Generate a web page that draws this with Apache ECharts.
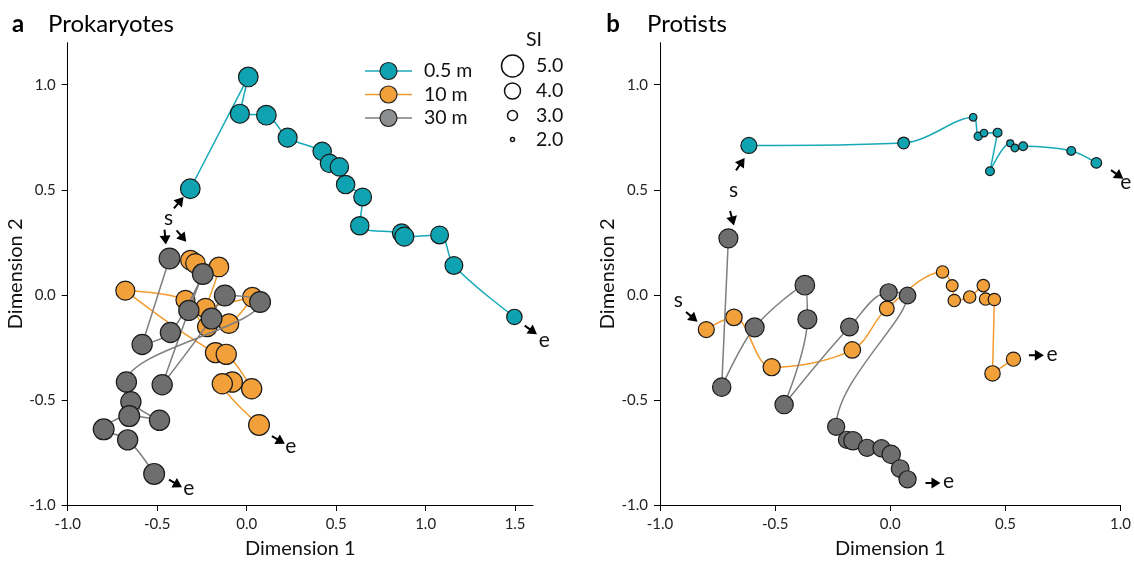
<!DOCTYPE html>
<html><head><meta charset="utf-8">
<script src="https://cdn.jsdelivr.net/npm/echarts@6/dist/echarts.min.js"></script>
<style>html,body{margin:0;padding:0;background:#fff}#c{width:1134px;height:564px}</style>
</head><body><div id="c"></div>
<script>
const FONT = 'Lato, "Open Sans", sans-serif';
// Panel a — Prokaryotes: [Dimension 1, Dimension 2, SI]
const prok05 = [[-0.315,0.505,4.6],[0.009,1.037,4.6],[-0.038,0.862,4.5],[0.110,0.855,4.6],[0.229,0.748,4.5],[0.422,0.683,4.4],[0.463,0.626,4.4],[0.518,0.609,4.4],[0.553,0.525,4.4],[0.648,0.466,4.3],[0.632,0.329,4.4],[0.866,0.294,4.4],[0.881,0.277,4.5],[1.078,0.285,4.3],[1.158,0.140,4.3],[1.496,-0.105,3.9]];
const prok10 = [[-0.314,0.165,4.6],[-0.286,0.150,4.6],[-0.155,0.133,4.6],[-0.230,-0.063,4.6],[0.032,-0.011,4.6],[-0.099,-0.137,4.6],[-0.220,-0.152,4.6],[-0.342,-0.024,4.5],[-0.678,0.020,4.5],[-0.174,-0.275,4.7],[-0.114,-0.283,4.7],[0.028,-0.447,4.7],[-0.080,-0.415,4.7],[-0.136,-0.423,4.7],[0.069,-0.619,4.8]];
const prok30 = [[-0.431,0.173,4.8],[-0.584,-0.236,4.7],[-0.426,-0.179,4.7],[-0.245,0.099,4.8],[-0.323,-0.074,4.7],[-0.472,-0.428,4.7],[-0.196,-0.113,4.8],[-0.122,-0.003,4.8],[0.075,-0.034,4.8],[-0.672,-0.415,4.7],[-0.647,-0.509,4.7],[-0.487,-0.597,4.7],[-0.656,-0.577,4.8],[-0.799,-0.640,4.8],[-0.665,-0.690,4.7],[-0.517,-0.852,4.8]];
// Panel b — Protists
const prot05 = [[-0.614,0.711,4.0],[0.058,0.723,3.3],[0.360,0.845,2.6],[0.382,0.755,2.7],[0.407,0.770,2.6],[0.466,0.772,2.8],[0.433,0.588,2.8],[0.521,0.721,2.5],[0.541,0.699,2.6],[0.577,0.707,2.8],[0.786,0.685,2.8],[0.895,0.628,3.1]];
const prot10 = [[-0.799,-0.165,4.0],[-0.679,-0.107,4.1],[-0.515,-0.344,4.2],[-0.165,-0.262,4.1],[-0.015,-0.065,3.8],[0.227,0.109,3.4],[0.269,0.044,3.3],[0.278,-0.027,3.4],[0.345,-0.010,3.4],[0.404,0.044,3.4],[0.414,-0.020,3.4],[0.452,-0.022,3.4],[0.444,-0.374,3.9],[0.535,-0.306,3.7]];
const prot30 = [[-0.703,0.269,4.5],[-0.732,-0.439,4.4],[-0.589,-0.155,4.5],[-0.371,0.046,4.6],[-0.360,-0.116,4.5],[-0.461,-0.522,4.4],[-0.177,-0.153,4.3],[-0.007,0.012,4.2],[0.075,-0.003,4.1],[-0.235,-0.628,4.2],[-0.188,-0.690,4.2],[-0.162,-0.694,4.4],[-0.101,-0.728,4.2],[-0.038,-0.730,4.2],[0.004,-0.759,4.4],[0.043,-0.827,4.3],[0.075,-0.878,4.2]];

const xTicksA = [-1.0,-0.5,0.0,0.5,1.0,1.5];
const xTicksB = [-1.0,-0.5,0.0,0.5,1.0];
const yTicks = [-1.0,-0.5,0.0,0.5,1.0];
const depthNames = ['0.5 m','10 m','30 m'];
const siLegend = [5.0,4.0,3.0,2.0];
const panelTitles = [['a','Prokaryotes'],['b','Protists']];
// start/end annotations in data coordinates: [x, y, direction deg]
const arrowsA = [[-0.385,0.433,50],[-0.456,0.282,-85],[-0.370,0.285,-50],[1.581,-0.163,-35],[0.170,-0.687,-30],[-0.405,-0.894,-30]];
const marksA = [['s',-0.436,0.365],['e',1.663,-0.214],['e',0.247,-0.721],['e',-0.324,-0.920]];
const arrowsB = [[-0.655,0.616,55],[-0.689,0.372,-75],[-0.867,-0.100,-40],[0.980,0.577,-35],[0.628,-0.287,0],[0.179,-0.895,0]];
const marksB = [['s',-0.681,0.500],['s',-0.921,-0.027],['e',1.023,0.534],['e',0.703,-0.282],['e',0.253,-0.889]];

const fillCol = ['#0FA3B1','#F2A03A','#6E6E6E'];
const lineCol = ['#17A9B7','#F39A2E','#7E7E7E'];
const legendFill = ['#0FA3B1','#F2A03A','#8D8E90'];
const siToSize = si => 6*si - 8;

const chart = echarts.init(document.getElementById('c'));

function xAxis(gi, max, ticks){
  return {type:'value', gridIndex:gi, min:-1, max:max, interval:0.5,
    axisLine:{onZero:false, lineStyle:{color:'#000', width:1}},
    axisTick:{customValues:ticks, length:6, lineStyle:{color:'#000'}},
    axisLabel:{customValues:ticks, formatter:v=>v.toFixed(1), fontSize:15, color:'#222', margin:12, fontFamily:FONT},
    splitLine:{show:false},
    name:'Dimension 1', nameLocation:'middle', nameGap:34,
    nameTextStyle:{fontSize:20, color:'#111', fontFamily:FONT}};
}
function yAxis(gi){
  return {type:'value', gridIndex:gi, min:-1, max:1.2, interval:0.5,
    axisLine:{onZero:false, lineStyle:{color:'#000', width:1}},
    axisTick:{customValues:yTicks, length:6, lineStyle:{color:'#000'}},
    axisLabel:{customValues:yTicks, formatter:v=>v.toFixed(1), fontSize:15, color:'#222', margin:12, fontFamily:FONT},
    splitLine:{show:false},
    name:'Dimension 2', nameLocation:'middle', nameGap:38,
    nameTextStyle:{fontSize:20, color:'#111', fontFamily:FONT}};
}
function ser(name, data, gi, k){
  return {type:'line', name, xAxisIndex:gi, yAxisIndex:gi, data, smooth:0.35,
    symbol:'circle', symbolSize:v=>siToSize(v[2]), showSymbol:true, showAllSymbol:true,
    lineStyle:{color:lineCol[k], width:1.5},
    itemStyle:{color:fillCol[k], borderColor:'#1b1b1b', borderWidth:1.2},
    emphasis:{disabled:true}, clip:false, animation:false, z:2+k};
}

chart.setOption({
  animation:false,
  grid:[{left:67.7, top:42.7, width:465.3, height:465.3},
        {left:660, top:42.7, width:464.3, height:465.3}],
  xAxis:[xAxis(0,1.6,xTicksA), xAxis(1,1.0,xTicksB)],
  yAxis:[yAxis(0), yAxis(1)],
  series:[
    ser(depthNames[0], prok05, 0, 0), ser(depthNames[1], prok10, 0, 1), ser(depthNames[2], prok30, 0, 2),
    ser(depthNames[0], prot05, 1, 0), ser(depthNames[1], prot10, 1, 1), ser(depthNames[2], prot30, 1, 2)
  ]
});

function arrowPts(cx, cy, deg){
  const base = [[-6,-1],[0,-1],[0,-5.5],[9,0],[0,5.5],[0,1],[-6,1]];
  const t = deg*Math.PI/180, c = Math.cos(t), s = Math.sin(t);
  return base.map(([px,py]) => [cx + px*c + py*s, cy - px*s + py*c]);
}
const g = [];
[[arrowsA, marksA, 0],[arrowsB, marksB, 1]].forEach(([arr, mk, gi]) => {
  arr.forEach(([x,y,d]) => {
    const p = chart.convertToPixel({gridIndex:gi}, [x,y]);
    g.push({type:'polygon', shape:{points:arrowPts(p[0],p[1],d)}, style:{fill:'#000'}, z:20});
  });
  mk.forEach(([t,x,y]) => {
    const p = chart.convertToPixel({gridIndex:gi}, [x,y]);
    g.push({type:'text', x:p[0], y:p[1], style:{text:t, fontSize:21, fontFamily:FONT, fill:'#111', align:'center', verticalAlign:'middle'}, z:20});
  });
});
// panel titles
const titlePos = [[18,48],[613,647]];
panelTitles.forEach(([lt, name], i) => {
  g.push({type:'text', x:titlePos[i][0], y:24, style:{text:lt, fontSize:24, fontWeight:'bold', fontFamily:FONT, fill:'#000', align:'center', verticalAlign:'middle'}});
  g.push({type:'text', x:titlePos[i][1], y:24, style:{text:name, fontSize:24, fontFamily:FONT, fill:'#000', align:'left', verticalAlign:'middle'}});
});
// depth legend
const legY = [71, 94.5, 118];
depthNames.forEach((n,i) => {
  g.push({type:'line', shape:{x1:365, y1:legY[i], x2:412, y2:legY[i]}, style:{stroke:lineCol[i], lineWidth:1.5}});
  g.push({type:'circle', shape:{cx:388.5, cy:legY[i], r:8.5}, style:{fill:legendFill[i], stroke:'#222', lineWidth:1.2}});
  g.push({type:'text', x:424, y:legY[i], style:{text:n, fontSize:19.5, fontFamily:FONT, fill:'#111', verticalAlign:'middle'}});
});
// SI legend
const siY = [66, 91, 115.5, 139.5];
g.push({type:'text', x:534, y:40, style:{text:'SI', fontSize:19.5, fontFamily:FONT, fill:'#111', align:'center', verticalAlign:'middle'}});
siLegend.forEach((v,i) => {
  g.push({type:'circle', shape:{cx:512.5, cy:siY[i], r:siToSize(v)/2}, style:{fill:'#fff', stroke:'#111', lineWidth:1.5}});
  g.push({type:'text', x:536, y:siY[i], style:{text:v.toFixed(1), fontSize:19.5, fontFamily:FONT, fill:'#111', verticalAlign:'middle'}});
});
chart.setOption({graphic:g});
</script></body></html>
